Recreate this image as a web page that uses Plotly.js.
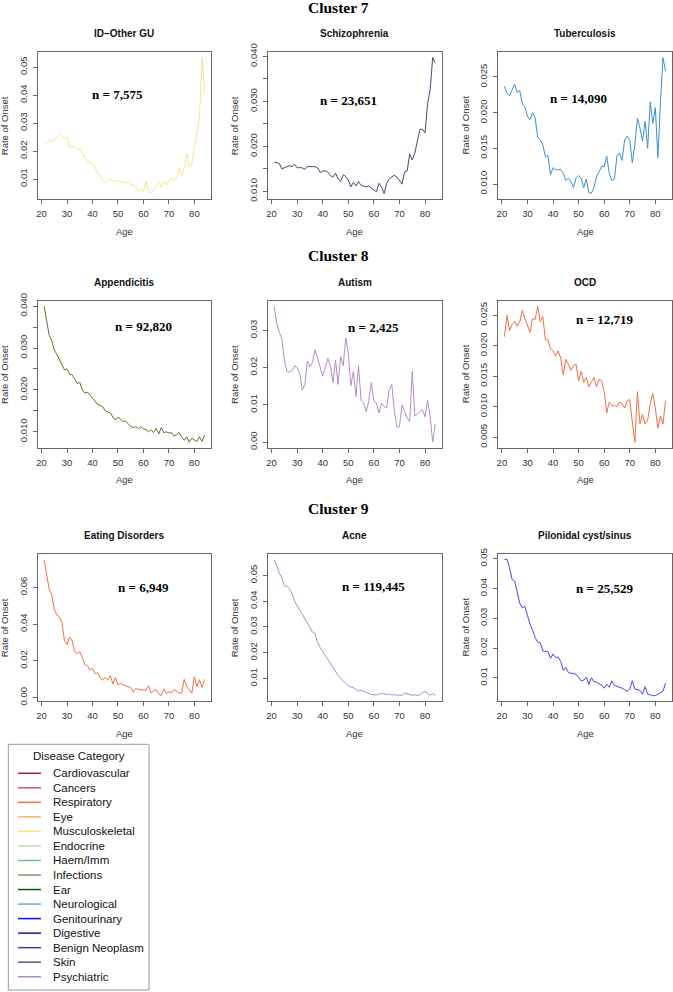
<!DOCTYPE html>
<html><head><meta charset="utf-8">
<script src="https://cdn.plot.ly/plotly-3.0.1.min.js"></script>
<style>html,body{margin:0;padding:0;background:#fff}#chart{width:673px;height:992px}</style>
</head><body><div id="chart"></div>
<script>
// ---------------- DATA ----------------
const ages = [21,22,23,24,25,26,27,28,29,30,31,32,33,34,35,36,37,38,39,40,41,42,43,44,45,46,47,48,49,50,
  51,52,53,54,55,56,57,58,59,60,61,62,63,64,65,66,67,68,69,70,71,72,73,74,75,76,77,78,79,80,81,82,83,84];
const xTicks = [20,30,40,50,60,70,80];

const clusterTitles = ["Cluster 7","Cluster 8","Cluster 9"];
const panelTitles = ["ID\u2212Other GU","Schizophrenia","Tuberculosis","Appendicitis","Autism","OCD","Eating Disorders","Acne","Pilonidal cyst/sinus"];
const nLabels = ["n = 7,575","n = 23,651","n = 14,090","n = 92,820","n = 2,425","n = 12,719","n = 6,949","n = 119,445","n = 25,529"];
const nLabelX = [50,50,50,60,60,60,60,60,60];
const nLabelY = [0.0402,0.0302,0.0220,0.0351,0.0308,0.0243,0.0600,0.0457,0.0400];

const idOtherGU = [0.0228,0.0230,0.0238,0.0235,0.0240,0.0250,0.0261,0.0252,0.0245,0.0250,
  0.0213,0.0215,0.0218,0.0205,0.0208,0.0195,0.0180,0.0160,0.0160,0.0155,
  0.0140,0.0125,0.0110,0.0095,0.0088,0.0098,0.0100,0.0095,0.0090,0.0095,
  0.0088,0.0092,0.0085,0.0088,0.0078,0.0082,0.0070,0.0058,0.0065,0.0055,
  0.0092,0.0055,0.0050,0.0060,0.0075,0.0088,0.0072,0.0092,0.0078,0.0095,
  0.0105,0.0095,0.0105,0.0140,0.0110,0.0140,0.0190,0.0145,0.0150,0.0220,
  0.0260,0.0320,0.0535,0.0410];
const schizophrenia = [0.0165,0.0163,0.0162,0.0150,0.0152,0.0155,0.0157,0.0155,0.0160,0.0152,
  0.0153,0.0152,0.0149,0.0155,0.0155,0.0154,0.0155,0.0152,0.0142,0.0145,
  0.0146,0.0143,0.0135,0.0132,0.0140,0.0128,0.0122,0.0137,0.0133,0.0125,
  0.0110,0.0120,0.0112,0.0122,0.0113,0.0112,0.0110,0.0112,0.0107,0.0103,
  0.0099,0.0118,0.0110,0.0095,0.0118,0.0128,0.0133,0.0136,0.0132,0.0123,
  0.0116,0.0143,0.0145,0.0183,0.0170,0.0185,0.0210,0.0238,0.0238,0.0230,
  0.0295,0.0325,0.0398,0.0385];
const tuberculosis = [0.0237,0.0227,0.0224,0.0232,0.0240,0.0228,0.0231,0.0212,0.0208,0.0195,
  0.0190,0.0200,0.0193,0.0165,0.0162,0.0155,0.0138,0.0140,0.0113,0.0123,
  0.0120,0.0120,0.0120,0.0115,0.0105,0.0108,0.0103,0.0095,0.0108,0.0112,
  0.0108,0.0095,0.0107,0.0088,0.0087,0.0095,0.0110,0.0117,0.0125,0.0124,
  0.0139,0.0115,0.0105,0.0107,0.0140,0.0143,0.0133,0.0162,0.0167,0.0162,
  0.0130,0.0155,0.0192,0.0178,0.0160,0.0188,0.0150,0.0215,0.0185,0.0207,
  0.0137,0.0215,0.0277,0.0258];
const appendicitis = [0.0400,0.0360,0.0330,0.0318,0.0295,0.0285,0.0272,0.0262,0.0248,0.0250,
  0.0238,0.0236,0.0225,0.0215,0.0218,0.0200,0.0192,0.0195,0.0188,0.0180,
  0.0172,0.0165,0.0163,0.0160,0.0150,0.0147,0.0145,0.0135,0.0128,0.0135,
  0.0130,0.0125,0.0125,0.0118,0.0113,0.0110,0.0112,0.0108,0.0112,0.0107,
  0.0105,0.0100,0.0105,0.0098,0.0108,0.0095,0.0110,0.0098,0.0100,0.0097,
  0.0098,0.0090,0.0093,0.0098,0.0087,0.0080,0.0088,0.0075,0.0085,0.0080,
  0.0077,0.0088,0.0077,0.0092];
const autism = [0.0365,0.0320,0.0295,0.0278,0.0220,0.0190,0.0188,0.0192,0.0205,0.0200,
  0.0185,0.0140,0.0155,0.0218,0.0202,0.0215,0.0248,0.0225,0.0200,0.0178,
  0.0200,0.0225,0.0205,0.0160,0.0220,0.0155,0.0230,0.0205,0.0280,0.0240,
  0.0152,0.0190,0.0122,0.0205,0.0112,0.0105,0.0082,0.0110,0.0160,0.0110,
  0.0105,0.0078,0.0105,0.0095,0.0092,0.0140,0.0155,0.0085,0.0040,0.0042,
  0.0100,0.0080,0.0065,0.0055,0.0190,0.0070,0.0075,0.0082,0.0088,0.0068,
  0.0112,0.0070,0.0000,0.0048];
const ocd = [0.0215,0.0250,0.0225,0.0235,0.0240,0.0232,0.0240,0.0258,0.0245,0.0235,
  0.0222,0.0245,0.0243,0.0265,0.0240,0.0248,0.0210,0.0210,0.0195,0.0192,
  0.0183,0.0192,0.0180,0.0152,0.0178,0.0170,0.0160,0.0168,0.0170,0.0143,
  0.0158,0.0140,0.0148,0.0133,0.0140,0.0148,0.0133,0.0145,0.0143,0.0125,
  0.0090,0.0108,0.0102,0.0102,0.0100,0.0108,0.0105,0.0098,0.0110,0.0112,
  0.0075,0.0042,0.0125,0.0072,0.0088,0.0072,0.0078,0.0105,0.0122,0.0098,
  0.0065,0.0085,0.0072,0.0110];
const eatingDisorders = [0.0750,0.0680,0.0590,0.0560,0.0480,0.0450,0.0440,0.0410,0.0310,0.0290,
  0.0330,0.0310,0.0250,0.0240,0.0250,0.0220,0.0180,0.0175,0.0150,0.0160,
  0.0130,0.0135,0.0110,0.0095,0.0110,0.0095,0.0120,0.0075,0.0110,0.0070,
  0.0078,0.0070,0.0065,0.0060,0.0055,0.0030,0.0050,0.0045,0.0042,0.0042,
  0.0040,0.0065,0.0025,0.0035,0.0045,0.0020,0.0012,0.0048,0.0025,0.0032,
  0.0025,0.0045,0.0035,0.0025,0.0025,0.0100,0.0060,0.0040,0.0025,0.0115,
  0.0060,0.0098,0.0055,0.0100];
const acne = [0.0560,0.0540,0.0510,0.0490,0.0460,0.0458,0.0448,0.0430,0.0400,0.0380,
  0.0365,0.0350,0.0330,0.0315,0.0298,0.0280,0.0275,0.0240,0.0220,0.0205,
  0.0190,0.0170,0.0155,0.0140,0.0125,0.0112,0.0102,0.0092,0.0085,0.0072,
  0.0068,0.0065,0.0058,0.0052,0.0055,0.0050,0.0048,0.0042,0.0038,0.0038,
  0.0036,0.0040,0.0042,0.0040,0.0038,0.0040,0.0036,0.0038,0.0035,0.0036,
  0.0035,0.0044,0.0040,0.0036,0.0035,0.0037,0.0034,0.0038,0.0046,0.0050,
  0.0042,0.0035,0.0042,0.0035];
const pilonidal = [0.0498,0.0498,0.0470,0.0430,0.0425,0.0390,0.0350,0.0335,0.0340,0.0310,
  0.0280,0.0260,0.0235,0.0220,0.0218,0.0190,0.0188,0.0188,0.0165,0.0180,
  0.0168,0.0170,0.0155,0.0125,0.0135,0.0118,0.0115,0.0115,0.0112,0.0102,
  0.0090,0.0092,0.0102,0.0078,0.0100,0.0087,0.0085,0.0080,0.0075,0.0065,
  0.0078,0.0068,0.0090,0.0075,0.0072,0.0068,0.0065,0.0060,0.0055,0.0062,
  0.0090,0.0062,0.0060,0.0058,0.0045,0.0070,0.0045,0.0042,0.0040,0.0040,
  0.0045,0.0052,0.0055,0.0082];

const seriesList = [idOtherGU, schizophrenia, tuberculosis, appendicitis, autism, ocd, eatingDisorders, acne, pilonidal];
const seriesColors = ["#FDDF90","#5E3F72","#3E8FCB","#5A7232","#B48CCB","#F46D43","#F46D43","#A98BCB","#4444F6"];

// y-axis ranges and ticks (as drawn in the reference)
const yRanges = [[0.0029,0.0554],[0.0083,0.0410],[0.0079,0.0285],[0.0062,0.0413],[-0.0015,0.0380],[0.0033,0.0274],[-0.0018,0.0782],[0.0013,0.0583],[0.0022,0.0516]];
const yTickVals = [
  [0.01,0.02,0.03,0.04,0.05],
  [0.010,0.015,0.020,0.025,0.030,0.035,0.040],
  [0.010,0.015,0.020,0.025],
  [0.010,0.015,0.020,0.025,0.030,0.035,0.040],
  [0.00,0.01,0.02,0.03],
  [0.005,0.010,0.015,0.020,0.025],
  [0.00,0.02,0.04,0.06],
  [0.01,0.02,0.03,0.04,0.05],
  [0.01,0.02,0.03,0.04,0.05]];
const yTickText = [
  ["0.01","0.02","0.03","0.04","0.05"],
  ["0.010","","0.020","","0.030","","0.040"],
  ["0.010","0.015","0.020","0.025"],
  ["0.010","","0.020","","0.030","","0.040"],
  ["0.00","0.01","0.02","0.03"],
  ["0.005","0.010","0.015","0.020","0.025"],
  ["0.00","0.02","0.04","0.06"],
  ["0.01","0.02","0.03","0.04","0.05"],
  ["0.01","0.02","0.03","0.04","0.05"]];

const legendTitle = "Disease Category";
const legendNames = ["Cardiovascular","Cancers","Respiratory","Eye","Musculoskeletal","Endocrine","Haem/Imm","Infections","Ear","Neurological","Genitourinary","Digestive","Benign Neoplasm","Skin","Psychiatric"];
const legendColors = ["#A0163E","#E0475A","#F46D43","#FDAE61","#FEE08B","#B5DFAE","#66C2A5","#8E8E6E","#006400","#6FA9DA","#0A0AFF","#1515A0","#3D3D9E","#6B4C7A","#B08AD0"];

// ---------------- LAYOUT ----------------
const W = 673, H = 992;
const cols = [[37.7,211],[267.7,441.7],[498,672]];
const rows = [[52,199],[300.7,447.7],[554,701]];
const px = v => v / W;
const py = v => 1 - v / H;
const sans = "Liberation Sans, Arial, Helvetica, sans-serif";
const serif = "Liberation Serif, Times New Roman, serif";

const traces = [];
const layout = {
  width: W, height: H,
  margin: {l:0, r:0, t:0, b:0},
  paper_bgcolor: "#fff", plot_bgcolor: "#fff",
  showlegend: false,
  annotations: [], shapes: []
};

for (let i = 0; i < 9; i++) {
  const r = Math.floor(i / 3), c = i % 3;
  const ax = i === 0 ? "" : String(i + 1);
  traces.push({
    x: ages, y: seriesList[i], type: "scatter", mode: "lines",
    line: {color: seriesColors[i], width: 1},
    xaxis: "x" + ax, yaxis: "y" + ax, hoverinfo: "skip"
  });
  const common = {
    showline: true, mirror: true, linecolor: "#666", linewidth: 1,
    ticks: "outside", ticklen: 4, tickcolor: "#666", tickwidth: 1,
    showgrid: false, zeroline: false,
    tickfont: {family: sans, size: 9.5, color: "#333"}
  };
  layout["xaxis" + ax] = Object.assign({}, common, {
    domain: [px(cols[c][0]), px(cols[c][1])],
    range: [18.48, 86.52], tickmode: "array", tickvals: xTicks,
    anchor: "y" + ax, ticklabelstandoff: 2
  });
  layout["yaxis" + ax] = Object.assign({}, common, {
    domain: [py(rows[r][1]), py(rows[r][0])],
    range: yRanges[i], tickmode: "array", tickvals: yTickVals[i], ticktext: yTickText[i],
    tickangle: -90, anchor: "x" + ax, ticklabelstandoff: 2
  });
  const cx = (cols[c][0] + cols[c][1]) / 2;
  layout.annotations.push({
    text: "<b>" + panelTitles[i] + "</b>", xref: "paper", yref: "paper",
    x: px(cx), y: py(rows[r][0] - 18.5), xanchor: "center", yanchor: "middle",
    showarrow: false, font: {family: sans, size: 10, color: "#111"}
  });
  layout.annotations.push({
    text: "Age", xref: "paper", yref: "paper",
    x: px(cx), y: py(rows[r][1] + 32), xanchor: "center", yanchor: "middle",
    showarrow: false, font: {family: sans, size: 9.5, color: "#333"}
  });
  layout.annotations.push({
    text: "Rate of Onset", xref: "paper", yref: "paper", textangle: -90,
    x: px(cols[c][0] - 33), y: py((rows[r][0] + rows[r][1]) / 2), xanchor: "center", yanchor: "middle",
    showarrow: false, font: {family: sans, size: 9.5, color: "#333"}
  });
  layout.annotations.push({
    text: "<b>" + nLabels[i] + "</b>", xref: "x" + ax, yref: "y" + ax,
    x: nLabelX[i], y: nLabelY[i], xanchor: "center", yanchor: "middle",
    showarrow: false, font: {family: serif, size: 13, color: "#000"}
  });
}
for (let r = 0; r < 3; r++) {
  layout.annotations.push({
    text: "<b>" + clusterTitles[r] + "</b>", xref: "paper", yref: "paper",
    x: px(338), y: py(rows[r][0] - 45), xanchor: "center", yanchor: "middle",
    showarrow: false, font: {family: serif, size: 15.5, color: "#000"}
  });
}

// legend box (drawn manually)
layout.shapes.push({type: "rect", xref: "paper", yref: "paper",
  x0: px(8.3), x1: px(149), y0: py(990), y1: py(744.3),
  line: {color: "#999", width: 1}, fillcolor: "rgba(0,0,0,0)"});
layout.annotations.push({text: legendTitle, xref: "paper", yref: "paper",
  x: px(78.5), y: py(755.5), xanchor: "center", yanchor: "middle", showarrow: false,
  font: {family: sans, size: 11.5, color: "#111"}});
for (let k = 0; k < legendNames.length; k++) {
  const yy = 773.3 + k * 14.53;
  layout.shapes.push({type: "line", xref: "paper", yref: "paper",
    x0: px(18), x1: px(41), y0: py(yy), y1: py(yy),
    line: {color: legendColors[k], width: 1.5}});
  layout.annotations.push({text: legendNames[k], xref: "paper", yref: "paper",
    x: px(51), y: py(yy), xanchor: "left", yanchor: "middle", showarrow: false,
    font: {family: sans, size: 11.5, color: "#111"}});
}

Plotly.newPlot("chart", traces, layout, {staticPlot: true, displayModeBar: false});
</script>
</body></html>
